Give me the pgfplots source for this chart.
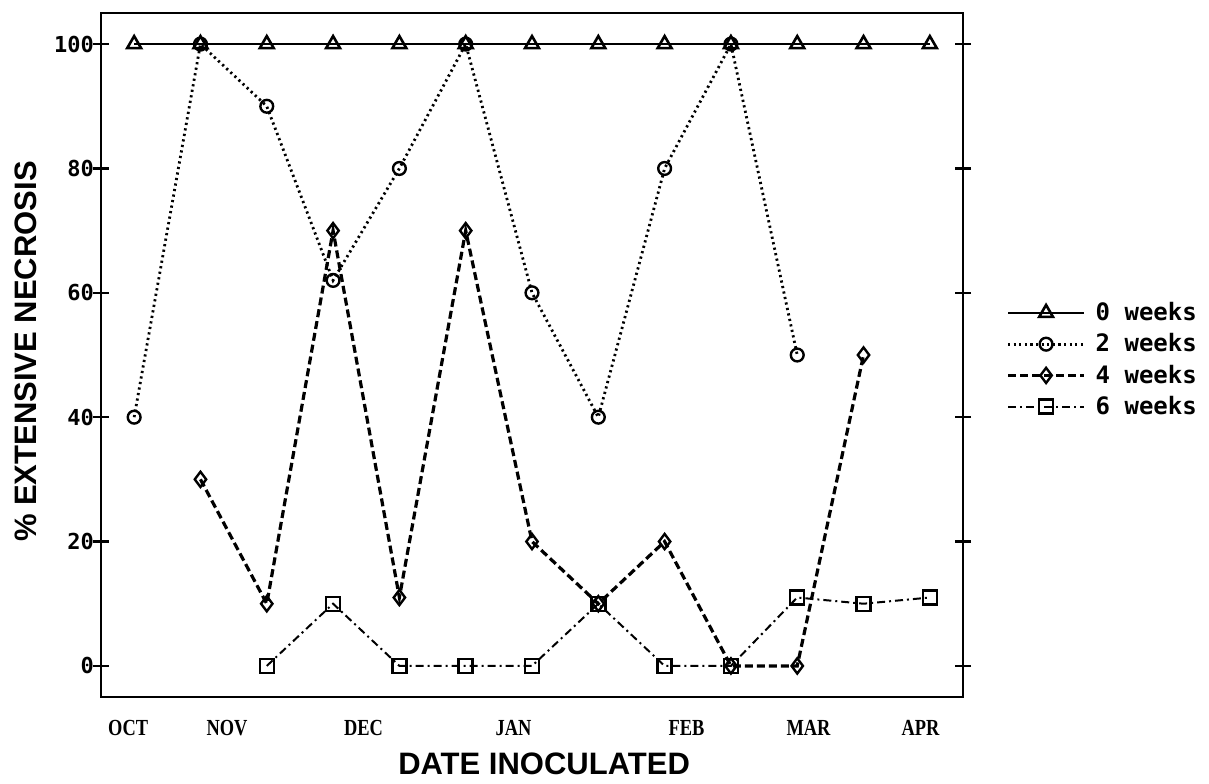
\documentclass[border=0pt]{standalone}
\usepackage{pgfplots}
\pgfplotsset{compat=1.18}
\usetikzlibrary{calc}
\usepackage{fontspec}
\setmainfont{Liberation Sans}
\newfontfamily\tickfont{DejaVu Sans Mono}
\newfontfamily\monthfont[FakeStretch=0.8]{Liberation Serif}
\newfontfamily\legfont{DejaVu Sans Mono}
\begin{document}
\begin{tikzpicture}
\begin{axis}[
  scale only axis,
  width=431pt, height=342pt,
  xmin=-0.5, xmax=12.5,
  ymin=-5, ymax=105,
  axis line style={line width=1.2pt},
  ytick={0,20,40,60,80,100},
  ytick pos=both,
  tick align=center,
  major tick length=8pt,
  ytick style={black, line width=1.1pt},
  xtick={-0.09,1.40,3.46,5.72,8.33,10.17,11.86},
  xticklabels={OCT,NOV,DEC,JAN,FEB,MAR,APR},
  xtick style={draw=none},
  /pgf/number format/assume math mode=true,
  yticklabel style={font=\fontsize{11}{13}\selectfont\tickfont\bfseries, xshift=4pt},
  xticklabel style={font=\fontsize{11.5}{13}\selectfont\monthfont\bfseries, yshift=-4pt},
  ylabel={\% EXTENSIVE NECROSIS},
  ylabel style={at={(axis description cs:-0.087,0.505)}, anchor=center, font=\fontsize{15.5}{18}\selectfont\bfseries},
  xlabel={DATE INOCULATED},
  xlabel style={at={(axis description cs:0.514,-0.098)}, anchor=center, font=\fontsize{15.5}{18}\selectfont\bfseries},
  legend style={at={(axis description cs:1.043,0.493)}, anchor=west, draw=none, fill=none,
    font=\fontsize{12}{14}\selectfont\legfont\bfseries, row sep=1pt},
  legend cell align=left,
  legend image code/.code={
    \draw[mark repeat=2,mark phase=2,#1] plot coordinates {(0pt,0pt) (19pt,0pt) (38pt,0pt)};
  },
]
\addplot[black, line width=1.3pt, mark=triangle, mark size=4pt, mark options={solid, fill=white, line width=1.3pt}]
  coordinates {(0,100) (1,100) (2,100) (3,100) (4,100) (5,100) (6,100) (7,100) (8,100) (9,100) (10,100) (11,100) (12,100)};
\addlegendentry{\hspace*{3pt}0 weeks}
\addplot[black, line width=1.4pt, dash pattern=on 1.1pt off 1.7pt, mark=o, mark size=3.2pt, mark options={solid, fill=white, line width=1.2pt}]
  coordinates {(0,40) (1,100) (2,90) (3,62) (4,80) (5,100) (6,60) (7,40) (8,80) (9,100) (10,50)};
\addlegendentry{\hspace*{3pt}2 weeks}
\addplot[black, line width=1.6pt, dash pattern=on 4pt off 2pt, mark=diamond, mark size=3.8pt, mark options={solid, fill=white, line width=1.2pt}]
  coordinates {(1,30) (2,10) (3,70) (4,11) (5,70) (6,20) (7,10) (8,20) (9,0) (10,0) (11,50)};
\addlegendentry{\hspace*{3pt}4 weeks}
\addplot[black, line width=1pt, dash pattern=on 4pt off 2pt on 1pt off 2pt, mark=square, mark size=3.5pt, mark options={solid, fill=white, line width=1.2pt}]
  coordinates {(2,0) (3,10) (4,0) (5,0) (6,0) (7,10) (8,0) (9,0) (10,11) (11,10) (12,11)};
\addlegendentry{\hspace*{3pt}6 weeks}
\end{axis}
\pgfresetboundingbox
\path ($(current axis.south west)+(-50.5pt,-43pt)$) rectangle ($(current axis.north east)+(123pt,6.5pt)$);
\end{tikzpicture}
\end{document}
